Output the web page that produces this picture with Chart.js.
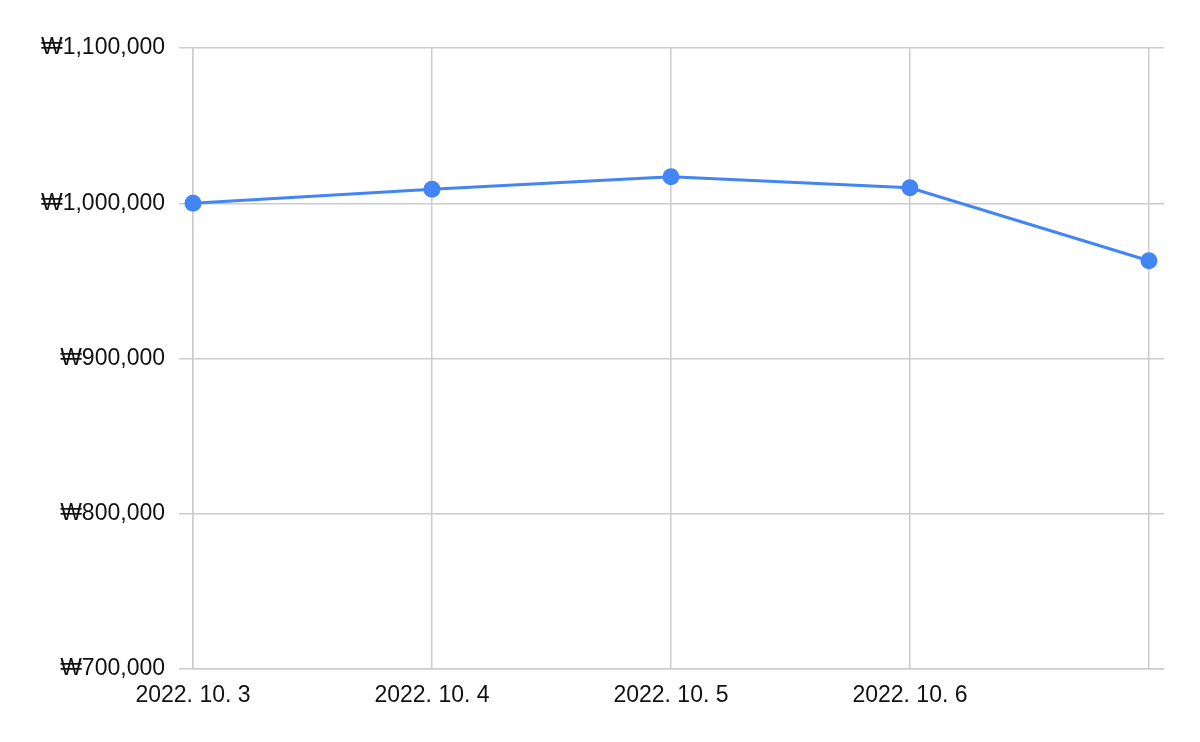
<!DOCTYPE html>
<html>
<head>
<meta charset="utf-8">
<script src="https://cdn.jsdelivr.net/npm/chart.js@4"></script>
<style>
  html, body { margin: 0; padding: 0; background: #fff; }
  #wrap { width: 1200px; height: 742px; }
</style>
</head>
<body>
<div id="wrap"><canvas id="myChart" width="1200" height="742"></canvas></div>
<script>
// data
var dates = ['2022. 10. 3', '2022. 10. 4', '2022. 10. 5', '2022. 10. 6', '2022. 10. 7'];
var prices = [1000000, 1009000, 1017000, 1010000, 963000];
var yTicks = [700000, 800000, 900000, 1000000, 1100000];

// the last date has no label in the original
var shownLabels = 4;

var points = prices.map(function(v, i) {
    return { x: i, y: v };
});

function won(v) {
    return '\u20A9' + v.toLocaleString('en-US');
}

var ctx = document.getElementById('myChart').getContext('2d');

const config = {
    type: 'line',
    data: {
        datasets: [{
            data: points,
            borderColor: '#4285F4',
            backgroundColor: '#4285F4',
            borderWidth: 3,
            pointRadius: 8.5,
            pointHoverRadius: 8.5,
            pointBorderWidth: 0,
            tension: 0,
            clip: false
        }]
    },
    options: {
        responsive: false,
        animation: false,
        layout: {
            padding: { left: 0, right: 36, top: 48, bottom: 0 }
        },
        scales: {
            x: {
                type: 'linear',
                min: 0,
                max: dates.length - 1 + 0.063,
                afterBuildTicks: function(scale) {
                    scale.ticks = dates.map(function(d, i) { return { value: i }; });
                },
                afterFit: function(scale) {
                    scale.height = 73;
                },
                grid: {
                    color: '#cccccc',
                    lineWidth: 1.5,
                    drawTicks: false
                },
                border: { color: '#cccccc', width: 1.5 },
                ticks: {
                    padding: 13,
                    maxRotation: 0,
                    autoSkip: false,
                    color: '#111',
                    font: { family: 'Liberation Sans, Arial, sans-serif', size: 23 },
                    callback: function(v) {
                        return v < shownLabels ? dates[v] : '';
                    }
                }
            },
            y: {
                min: yTicks[0],
                max: yTicks[yTicks.length - 1],
                afterBuildTicks: function(scale) {
                    scale.ticks = yTicks.map(function(t) { return { value: t }; });
                },
                afterFit: function(scale) {
                    scale.width = 193;
                },
                grid: {
                    color: '#cccccc',
                    lineWidth: 1.5,
                    tickLength: 14
                },
                border: { color: '#cccccc', width: 1.5 },
                ticks: {
                    padding: 14,
                    color: '#111',
                    font: { family: 'Liberation Sans, Arial, sans-serif', size: 23 },
                    callback: function(v) { return won(v); }
                }
            }
        },
        plugins: {
            legend: { display: false },
            title: { display: false },
            tooltip: { enabled: false }
        }
    }
};

var lineChart = new Chart(ctx, config);
</script>
</body>
</html>
